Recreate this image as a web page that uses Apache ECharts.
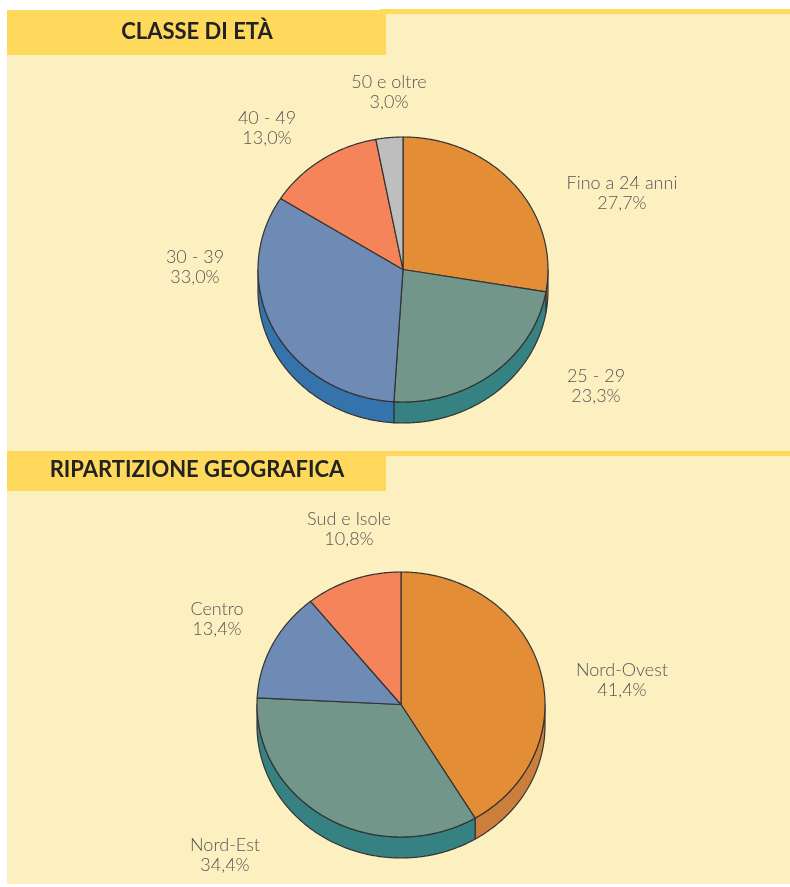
<!DOCTYPE html>
<html><head><meta charset="utf-8">
<script src="https://cdn.jsdelivr.net/npm/echarts@6/dist/echarts.min.js"></script>
<style>html,body{margin:0;padding:0;background:#fff}#c{width:790px;height:887px}</style>
</head><body><div id="c"></div><script>
// ---- data ----
const sectionTitles = ['CLASSE DI ETÀ', 'RIPARTIZIONE GEOGRAFICA'];
const ageCategories = ['Fino a 24 anni', '25 - 29', '30 - 39', '40 - 49', '50 e oltre'];
const ageValues = [27.7, 23.3, 33.0, 13.0, 3.0];
const geoCategories = ['Nord-Ovest', 'Nord-Est', 'Centro', 'Sud e Isole'];
const geoValues = [41.4, 34.4, 13.4, 10.8];

// ---- layout / style ----
const ageTop = ['#E38E37', '#72978A', '#6E8BB6', '#F5845A', '#BEBEBE'];
const ageSide = ['#C97D3B', '#368282', '#3573AC', '#D06C48', '#999999'];
const geoTop = ['#E38E37', '#72978A', '#6E8BB6', '#F5845A'];
const geoSide = ['#CC7F3D', '#368282', '#3573AC', '#D06C48'];
const ageLabelPos = [[622, 193], [596, 386], [195, 267], [267, 128], [389, 92]];
const geoLabelPos = [[622, 680], [225, 855], [217, 619], [349, 529]];
const agePie = { cx: 403, cy: 269.5, rx: 145, ry: 132.5, depth: 21 };
const geoPie = { cx: 401, cy: 704.5, rx: 144, ry: 132.5, depth: 21 };

const fmtPct = v => v.toFixed(1).replace('.', ',') + '%';

function arcPts(g, a0, a1, dy) {
  const pts = [];
  const n = Math.max(2, Math.ceil((a1 - a0) / 0.5));
  for (let k = 0; k <= n; k++) {
    const a = (a0 + (a1 - a0) * k / n) * Math.PI / 180;
    pts.push([g.cx + g.rx * Math.sin(a), g.cy - g.ry * Math.cos(a) + dy]);
  }
  return pts;
}

function pieSeries(values, names, g, topColors, sideColors, labelPos) {
  const total = values.reduce((a, b) => a + b, 0);
  const startAngle = i => values.slice(0, i).reduce((a, b) => a + b, 0) / total * 360;
  const data = values.map((v, i) => ({ name: names[i], value: v }));
  const side = {
    type: 'custom', coordinateSystem: 'none', z: 2, silent: true, data,
    renderItem: (params, api) => {
      const i = params.dataIndex;
      const a0 = startAngle(i), a1 = a0 + api.value(0) / total * 360;
      const s = Math.max(a0, 90), e = Math.min(a1, 270);
      if (s >= e) return { type: 'group', children: [] };
      const pts = arcPts(g, s, e, 0).concat(arcPts(g, s, e, g.depth).reverse());
      return { type: 'polygon', shape: { points: pts },
        style: { fill: sideColors[i], stroke: '#333', lineWidth: 1.2 } };
    }
  };
  const top = {
    type: 'custom', coordinateSystem: 'none', z: 3, silent: true, data,
    renderItem: (params, api) => {
      const i = params.dataIndex;
      const v = api.value(0);
      const a0 = startAngle(i), a1 = a0 + v / total * 360;
      const pts = [[g.cx, g.cy]].concat(arcPts(g, a0, a1, 0));
      return { type: 'group', children: [
        { type: 'polygon', shape: { points: pts },
          style: { fill: topColors[i], stroke: '#333', lineWidth: 1.2, lineJoin: 'round' } },
        { type: 'text', style: { x: labelPos[i][0], y: labelPos[i][1],
            text: names[i] + '\n' + fmtPct(v), align: 'center', verticalAlign: 'middle',
            fontFamily: 'Lato', fontWeight: 300, fontSize: 18, lineHeight: 20, fill: '#555' } }
      ] };
    }
  };
  return [side, top];
}

const yellow = '#FFD95C', light = '#FDF0C0';
const chart = echarts.init(document.getElementById('c'), null, { renderer: 'canvas' });
chart.setOption({
  backgroundColor: '#ffffff',
  animation: false,
  graphic: [
    { type: 'rect', shape: { x: 7, y: 14, width: 783, height: 870 }, style: { fill: light }, z: 0 },
    { type: 'rect', shape: { x: 380, y: 9, width: 410, height: 5 }, style: { fill: yellow }, z: 0 },
    { type: 'rect', shape: { x: 7, y: 10, width: 379, height: 45 }, style: { fill: yellow }, z: 0 },
    { type: 'rect', shape: { x: 380, y: 451, width: 410, height: 5 }, style: { fill: yellow }, z: 0 },
    { type: 'rect', shape: { x: 7, y: 451, width: 379, height: 40 }, style: { fill: yellow }, z: 0 },
    { type: 'text', z: 1, style: { x: 197, y: 32, text: sectionTitles[0], align: 'center', verticalAlign: 'middle',
        fontFamily: 'Lato', fontWeight: 'bold', fontSize: 22, fill: '#222' } },
    { type: 'text', z: 1, style: { x: 197, y: 470, text: sectionTitles[1], align: 'center', verticalAlign: 'middle',
        fontFamily: 'Lato', fontWeight: 'bold', fontSize: 22, fill: '#222' } }
  ],
  series: [
    ...pieSeries(ageValues, ageCategories, agePie, ageTop, ageSide, ageLabelPos),
    ...pieSeries(geoValues, geoCategories, geoPie, geoTop, geoSide, geoLabelPos)
  ]
});
</script></body></html>
